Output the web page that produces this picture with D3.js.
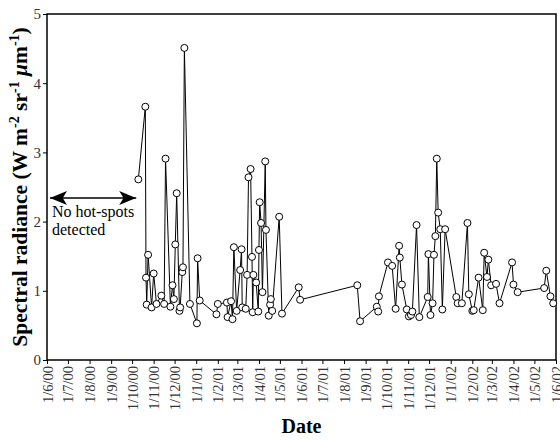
<!DOCTYPE html>
<html>
<head>
<meta charset="utf-8">
<script src="https://cdn.jsdelivr.net/npm/d3@7"></script>
<style>
  body { margin: 0; background: #fff; }
  text { font-family: "Liberation Serif", "DejaVu Serif", serif; }
</style>
</head>
<body>
<div id="graph"></div>
<script>
// datas das observações e radiância espectral
const dates = [
  "2000-10-10", "2000-10-20", "2000-10-21", "2000-10-22", "2000-10-24", "2000-10-29",
  "2000-11-01", "2000-11-05", "2000-11-12", "2000-11-16", "2000-11-18", "2000-11-25",
  "2000-11-28", "2000-11-30", "2000-12-02", "2000-12-04", "2000-12-08", "2000-12-09",
  "2000-12-12", "2000-12-13", "2000-12-15", "2000-12-23", "2001-01-02", "2001-01-03",
  "2001-01-06", "2001-01-30", "2001-02-01", "2001-02-14", "2001-02-15", "2001-02-20",
  "2001-02-22", "2001-02-24", "2001-02-28", "2001-03-05", "2001-03-07", "2001-03-08",
  "2001-03-13", "2001-03-15", "2001-03-17", "2001-03-20", "2001-03-22", "2001-03-23",
  "2001-03-24", "2001-03-28", "2001-03-31", "2001-04-01", "2001-04-02", "2001-04-04",
  "2001-04-06", "2001-04-10", "2001-04-11", "2001-04-15", "2001-04-17", "2001-04-18",
  "2001-04-20", "2001-04-30", "2001-05-04", "2001-05-28", "2001-05-30", "2001-08-20",
  "2001-08-24", "2001-09-17", "2001-09-19", "2001-09-20", "2001-10-03", "2001-10-09",
  "2001-10-14", "2001-10-19", "2001-10-20", "2001-10-23", "2001-10-30", "2001-11-02",
  "2001-11-05", "2001-11-07", "2001-11-13", "2001-11-17", "2001-11-29", "2001-11-30",
  "2001-12-03", "2001-12-06", "2001-12-08", "2001-12-10", "2001-12-12", "2001-12-14",
  "2001-12-17", "2001-12-20", "2001-12-24", "2002-01-09", "2002-01-11", "2002-01-17",
  "2002-01-25", "2002-01-27", "2002-02-01", "2002-02-03", "2002-02-10", "2002-02-16",
  "2002-02-18", "2002-02-22", "2002-02-24", "2002-02-28", "2002-03-07", "2002-03-12",
  "2002-03-30", "2002-04-01", "2002-04-07", "2002-05-15", "2002-05-18", "2002-05-24",
  "2002-05-28"
];

const radiance = [
  2.61, 3.66, 1.19, 0.80, 1.52, 0.76,
  1.25, 0.81, 0.93, 0.81, 2.91, 0.77,
  1.08, 0.88, 1.67, 2.41, 0.71, 0.76,
  1.27, 1.34, 4.51, 0.81, 0.53, 1.47,
  0.86, 0.66, 0.81, 0.83, 0.62, 0.85,
  0.59, 1.63, 0.71, 1.30, 1.60, 0.76,
  0.74, 1.23, 2.64, 2.76, 1.49, 0.69,
  1.23, 1.12, 0.70, 1.59, 2.28, 1.98,
  0.98, 2.87, 1.88, 0.64, 0.80, 0.88,
  0.71, 2.07, 0.67, 1.05, 0.87, 1.08,
  0.56, 0.77, 0.70, 0.92, 1.41, 1.36,
  0.74, 1.65, 1.48, 1.09, 0.73, 0.63,
  0.65, 0.70, 1.95, 0.62, 0.91, 1.53,
  0.65, 0.82, 1.52, 1.79, 2.91, 2.13,
  1.89, 0.73, 1.89, 0.91, 0.82, 0.82,
  1.98, 0.95, 0.71, 0.72, 1.19, 0.72,
  1.55, 1.20, 1.45, 1.08, 1.10, 0.82,
  1.41, 1.09, 0.98, 1.04, 1.29, 0.92,
  0.82
];

const yTicks = [0, 1, 2, 3, 4, 5];
const xStart = "2000-06-01";
const xEnd = "2002-06-01";
const arrowEnd = "2000-10-07";

const parse = d3.timeParse("%Y-%m-%d");
const meudado = dates.map((d, i) => ({ date: parse(d), value: radiance[i] }));

const W = 560, H = 440;
const margin = { top: 14, left: 47, right: 4, bottom: 80 };

const svg = d3.select("#graph")
  .append("svg")
  .attr("width", W)
  .attr("height", H);

const xScale = d3.scaleTime()
  .domain([parse(xStart), parse(xEnd)])
  .range([margin.left, W - margin.right]);

const yScale = d3.scaleLinear()
  .domain([0, 5])
  .range([H - margin.bottom, margin.top]);

// eixo x: um tick por mês
const xAxis = svg.append("g")
  .attr("transform", `translate(0, ${H - margin.bottom})`)
  .call(d3.axisBottom(xScale)
    .ticks(d3.timeMonth.every(1))
    .tickSize(4)
    .tickFormat(d => "1/" + (d.getMonth() + 1) + "/" + d3.timeFormat("%y")(d)));

xAxis.select(".domain").remove();
xAxis.selectAll("text")
  .attr("transform", "rotate(-90)")
  .attr("text-anchor", "end")
  .attr("x", -6)
  .attr("y", 0)
  .attr("dy", "0.35em")
  .attr("font-size", "14.5px")
  .attr("fill", "#333");

// eixo y
const yAxis = svg.append("g")
  .attr("transform", `translate(${margin.left}, 0)`)
  .call(d3.axisLeft(yScale).tickValues(yTicks).tickFormat(d3.format("d")).tickSize(4).tickPadding(2));

yAxis.select(".domain").remove();
yAxis.selectAll("text")
  .attr("font-size", "15px")
  .attr("fill", "#333");

// moldura
svg.append("rect")
  .attr("x", margin.left)
  .attr("y", margin.top)
  .attr("width", W - margin.right - margin.left)
  .attr("height", H - margin.bottom - margin.top)
  .attr("fill", "none")
  .attr("stroke", "#000")
  .attr("stroke-width", 1.5);

// linha e pontos
const line = d3.line()
  .x(d => xScale(d.date))
  .y(d => yScale(d.value));

svg.append("path")
  .datum(meudado)
  .attr("d", line)
  .attr("fill", "none")
  .attr("stroke", "#000")
  .attr("stroke-width", 1);

svg.selectAll("circle")
  .data(meudado)
  .join("circle")
  .attr("cx", d => xScale(d.date))
  .attr("cy", d => yScale(d.value))
  .attr("r", 3.5)
  .attr("fill", "#fff")
  .attr("stroke", "#000")
  .attr("stroke-width", 1);

// seta dupla "No hot-spots detected"
const defs = svg.append("defs");
defs.append("marker")
  .attr("id", "head")
  .attr("viewBox", "0 0 10 10")
  .attr("refX", 10)
  .attr("refY", 5)
  .attr("markerWidth", 17)
  .attr("markerHeight", 14)
  .attr("preserveAspectRatio", "none")
  .attr("markerUnits", "userSpaceOnUse")
  .attr("orient", "auto-start-reverse")
  .append("path")
  .attr("d", "M0,0 L10,5 L0,10 L2.5,5 Z")
  .attr("fill", "#000");

const arrowY = 198;
svg.append("line")
  .attr("x1", margin.left + 3)
  .attr("x2", xScale(parse(arrowEnd)))
  .attr("y1", arrowY)
  .attr("y2", arrowY)
  .attr("stroke", "#000")
  .attr("stroke-width", 1.5)
  .attr("marker-start", "url(#head)")
  .attr("marker-end", "url(#head)");

svg.append("text")
  .attr("x", margin.left + 5)
  .attr("y", arrowY + 19)
  .attr("font-size", "16px")
  .text("No hot-spots");

svg.append("text")
  .attr("x", margin.left + 5)
  .attr("y", arrowY + 37)
  .attr("font-size", "16px")
  .text("detected");

// títulos dos eixos
svg.append("text")
  .attr("x", (margin.left + W - margin.right) / 2)
  .attr("y", 433)
  .attr("text-anchor", "middle")
  .attr("font-size", "20px")
  .attr("font-weight", "bold")
  .text("Date");

const ylab = svg.append("text")
  .attr("transform", `translate(27, ${(margin.top + H - margin.bottom) / 2}) rotate(-90)`)
  .attr("text-anchor", "middle")
  .attr("font-size", "21.5px")
  .attr("font-weight", "bold");

ylab.append("tspan").text("Spectral radiance (W m");
ylab.append("tspan").attr("dy", -8).attr("font-size", "14px").text("-2");
ylab.append("tspan").attr("dy", 8).text(" sr");
ylab.append("tspan").attr("dy", -8).attr("font-size", "14px").text("-1");
ylab.append("tspan").attr("dy", 8).attr("font-style", "italic").text(" μ");
ylab.append("tspan").text("m");
ylab.append("tspan").attr("dy", -8).attr("font-size", "14px").text("-1");
ylab.append("tspan").attr("dy", 8).text(")");
</script>
</body>
</html>
